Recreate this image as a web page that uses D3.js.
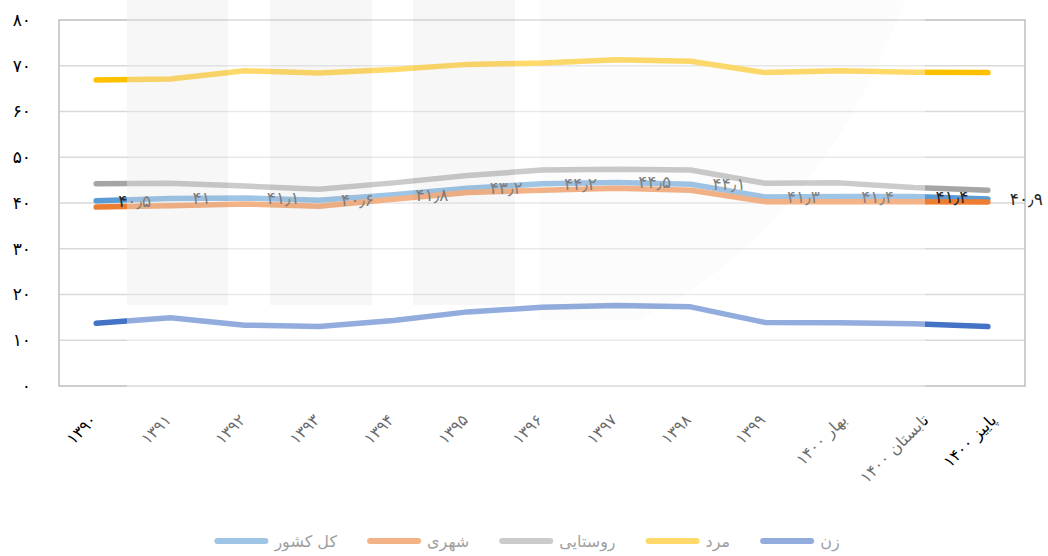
<!DOCTYPE html>
<html>
<head>
<meta charset="utf-8">
<script src="https://cdn.jsdelivr.net/npm/d3@7"></script>
<style>
  body { margin: 0; background: #fff; }
  text { font-family: "DejaVu Sans", sans-serif; }
</style>
</head>
<body>
<div id="chart"></div>
<script>
const categories = ["۱۳۹۰", "۱۳۹۱", "۱۳۹۲", "۱۳۹۳", "۱۳۹۴", "۱۳۹۵", "۱۳۹۶", "۱۳۹۷", "۱۳۹۸", "۱۳۹۹", "بهار ۱۴۰۰", "تابستان ۱۴۰۰", "پاییز ۱۴۰۰"]
const total = [40.5, 41, 41.1, 40.6, 41.8, 43.2, 44.2, 44.5, 44.1, 41.3, 41.4, 41.4, 40.9]
const urban = [39.1, 39.4, 39.8, 39.3, 40.8, 42.3, 42.8, 43.2, 42.8, 40.3, 40.3, 40.3, 40.2]
const rural = [44.2, 44.3, 43.7, 43.0, 44.4, 46.0, 47.2, 47.4, 47.2, 44.3, 44.4, 43.4, 42.8]
const men = [66.9, 67.1, 68.9, 68.4, 69.2, 70.3, 70.6, 71.3, 71.0, 68.5, 68.9, 68.6, 68.5]
const women = [13.7, 14.9, 13.3, 13.0, 14.3, 16.2, 17.2, 17.6, 17.3, 13.9, 13.8, 13.6, 13.0]
const totalLabels = ["۴۰٫۵", "۴۱", "۴۱٫۱", "۴۰٫۶", "۴۱٫۸", "۴۳٫۲", "۴۴٫۲", "۴۴٫۵", "۴۴٫۱", "۴۱٫۳", "۴۱٫۴", "۴۱٫۴", "۴۰٫۹"]
const yTicks = [0, 10, 20, 30, 40, 50, 60, 70, 80]
const yTickLabels = ["۰", "۱۰", "۲۰", "۳۰", "۴۰", "۵۰", "۶۰", "۷۰", "۸۰"]

const series = [
  { name: "کل کشور", values: total, color: "#5B9BD5" },
  { name: "شهری", values: urban, color: "#ED7D31" },
  { name: "روستایی", values: rural, color: "#A5A5A5" },
  { name: "مرد", values: men, color: "#FFC000" },
  { name: "زن", values: women, color: "#4472C4" },
]

const width = 1048
const height = 556
const plot = { left: 59, right: 1025, top: 20, bottom: 386 }

const svg = d3
  .select("#chart")
  .append("svg")
  .attr("width", width)
  .attr("height", height)

const x = d3
  .scalePoint()
  .domain(categories)
  .range([plot.left, plot.right])
  .padding(0.5)

const y = d3
  .scaleLinear()
  .domain([0, 80])
  .range([plot.bottom, plot.top])

// gridlines
svg
  .append("g")
  .selectAll("line")
  .data(yTicks.slice(1, -1))
  .enter()
  .append("line")
  .attr("x1", plot.left)
  .attr("x2", plot.right)
  .attr("y1", d => y(d))
  .attr("y2", d => y(d))
  .attr("stroke", "#d9d9d9")
  .attr("stroke-width", 1.3)

svg
  .append("rect")
  .attr("x", plot.left)
  .attr("y", plot.top)
  .attr("width", plot.right - plot.left)
  .attr("height", plot.bottom - plot.top)
  .attr("fill", "none")
  .attr("stroke", "#bfbfbf")
  .attr("stroke-width", 1.5)

// y axis
const yAxis = svg
  .append("g")
  .attr("transform", `translate(${plot.left},0)`)
  .call(
    d3
      .axisLeft(y)
      .tickValues(yTicks)
      .tickSize(0)
      .tickPadding(28)
      .tickFormat((d, i) => yTickLabels[i])
  )
yAxis.select(".domain").remove()
yAxis
  .selectAll("text")
  .attr("font-size", 17)
  .attr("fill", "#000")
  .attr("font-family", "DejaVu Sans, sans-serif")

// x axis
const xAxis = svg
  .append("g")
  .attr("transform", `translate(0,${plot.bottom})`)
  .call(d3.axisBottom(x).tickSize(0))
xAxis.select(".domain").remove()
xAxis
  .selectAll("text")
  .attr("font-size", 16)
  .attr("fill", "#000")
  .attr("font-family", "DejaVu Sans, sans-serif")
  .attr("text-anchor", "end")
  .attr("y", 0)
  .attr("dy", 0)
  .attr("transform", function () {
    const len = this.getComputedTextLength()
    const shift = Math.max(0, (len - 40) * 0.3)
    return `translate(${1 + shift},35) rotate(-45)`
  })

// lines
const line = d3
  .line()
  .x((d, i) => x(categories[i]))
  .y(d => y(d))

svg
  .append("g")
  .selectAll("path")
  .data(series)
  .enter()
  .append("path")
  .attr("d", s => line(s.values))
  .attr("fill", "none")
  .attr("stroke", s => s.color)
  .attr("stroke-width", 5.5)
  .attr("stroke-linecap", "round")
  .attr("stroke-linejoin", "round")

// data labels for total
svg
  .append("g")
  .selectAll("text")
  .data(total)
  .enter()
  .append("text")
  .attr("x", (d, i) => x(categories[i]) + 22)
  .attr("y", d => y(d))
  .attr("dy", "0.35em")
  .attr("font-size", 17)
  .attr("fill", "#262626")
  .text((d, i) => totalLabels[i])

// legend
const legend = svg.append("g").attr("transform", "translate(0,541)")
const items = legend
  .selectAll("g")
  .data(series)
  .enter()
  .append("g")
items
  .append("line")
  .attr("x1", 3)
  .attr("x2", 51)
  .attr("stroke", d => d.color)
  .attr("stroke-width", 6)
  .attr("stroke-linecap", "round")
items
  .append("text")
  .attr("x", 60)
  .attr("dy", "0.35em")
  .attr("font-size", 16)
  .attr("fill", "#595959")
  .text(d => d.name)
let lx = 0
const offsets = []
items.each(function () {
  offsets.push(lx)
  lx += 60 + d3.select(this).select("text").node().getComputedTextLength() + 30
})
const legendWidth = lx - 30
const start = 527 - legendWidth / 2
items.attr("transform", (d, i) => `translate(${start + offsets[i]},0)`)

// faded watermark band over the middle of the picture
const mark = svg.append("g").attr("pointer-events", "none")
mark
  .append("rect")
  .attr("x", 127)
  .attr("y", 0)
  .attr("width", 925 - 127)
  .attr("height", height)
  .attr("fill", "#fff")
  .attr("opacity", 0.42)
mark
  .selectAll(".bar")
  .data([[127, 228], [270, 372], [413, 515]])
  .enter()
  .append("rect")
  .attr("x", d => d[0])
  .attr("y", 0)
  .attr("width", d => d[1] - d[0])
  .attr("height", 305)
  .attr("fill", "#000")
  .attr("opacity", 0.03)
mark
  .append("path")
  .attr("d", "M540,0 L905,0 Q820,230 640,320 L540,320 Z")
  .attr("fill", "#000")
  .attr("opacity", 0.012)
</script>
</body>
</html>
